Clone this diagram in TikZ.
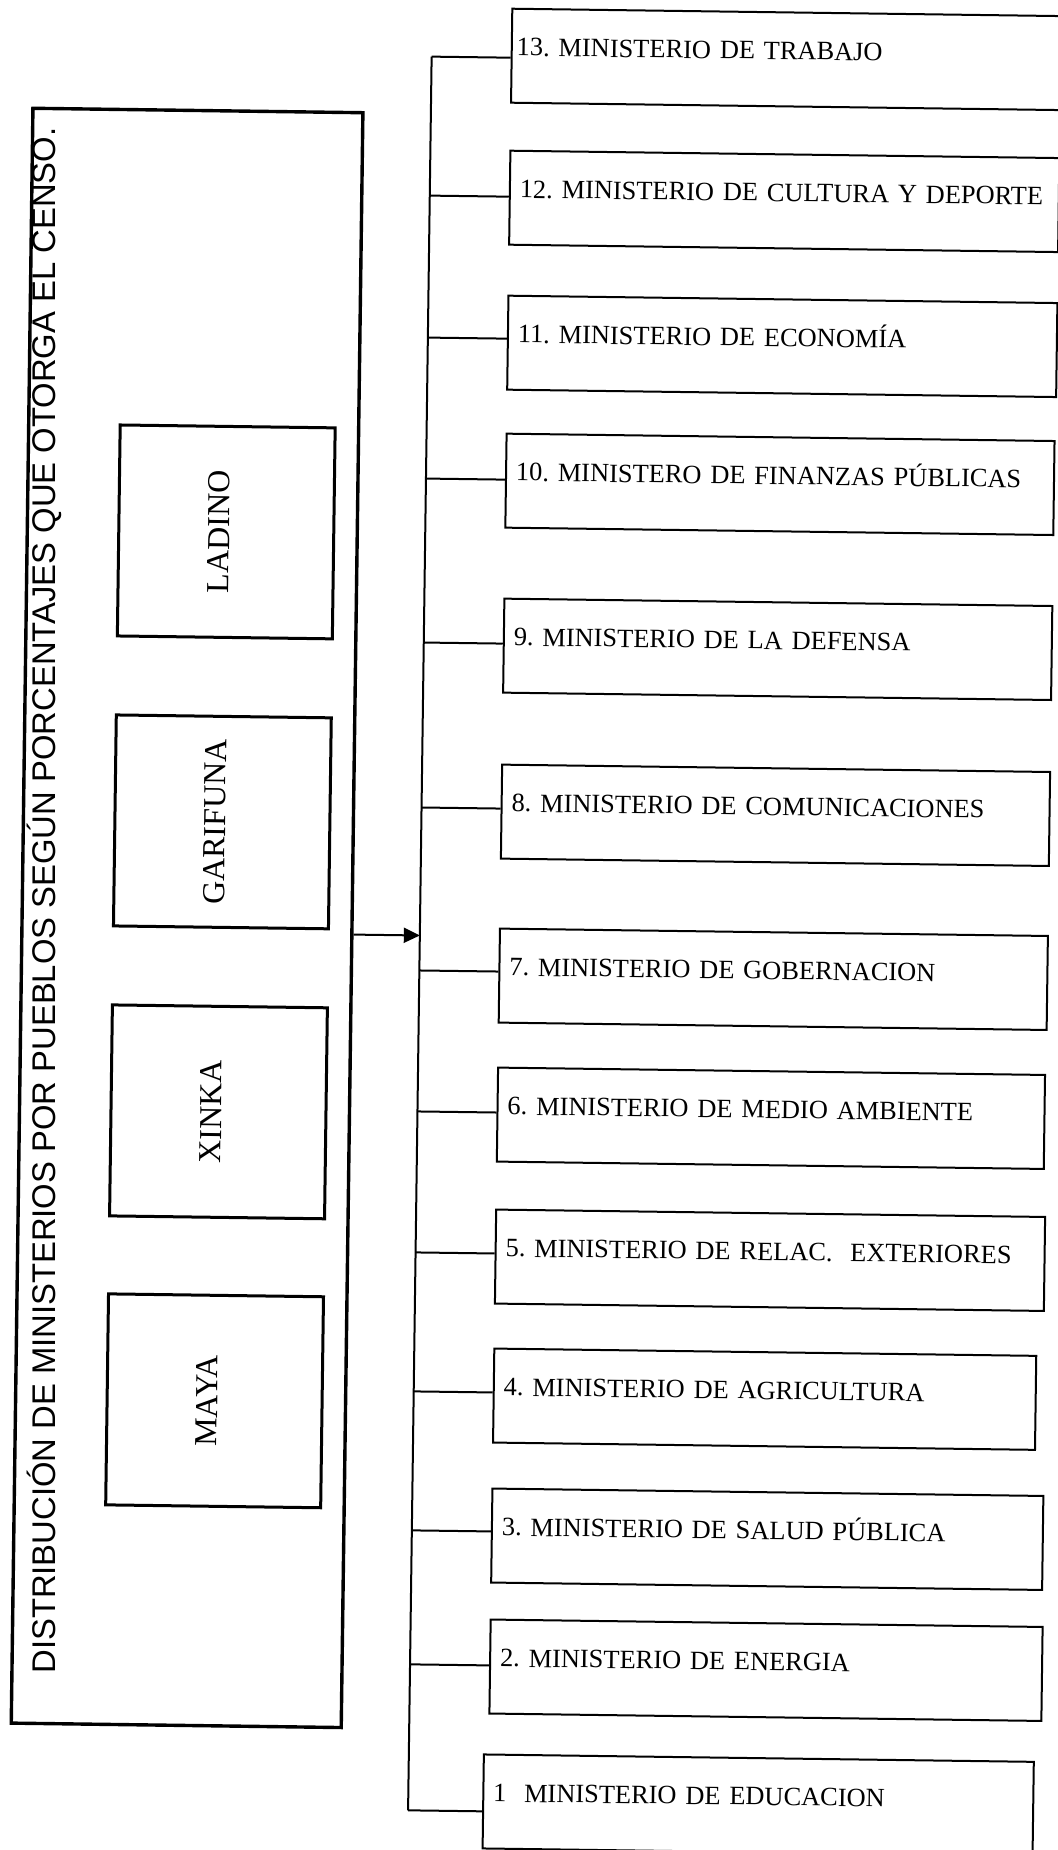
\documentclass[tikz,border=0pt]{standalone}
\usepackage{fontspec}
\setmainfont{Liberation Serif}
\newfontfamily\headfont{Liberation Sans}
\usetikzlibrary{arrows.meta}
\begin{document}
\frenchspacing
\begin{tikzpicture}[x=0.5pt,y=-0.5pt,
  frame/.style={draw, line width=1.7pt, minimum width=165pt, minimum height=807.5pt, inner sep=0pt},
  pueblo/.style={draw, line width=1.5pt, minimum width=107.5pt, minimum height=105.5pt, inner sep=0pt},
  pueblo text/.style={anchor=base, rotate=90, inner sep=0pt, font=\fontsize{16pt}{19pt}\selectfont},
  title text/.style={anchor=base, rotate=90.77, inner sep=0pt, font=\headfont\fontsize{16.4pt}{20pt}\selectfont},
  ministerio/.style={draw, line width=1pt, anchor=north west, minimum height=47pt,
    inner xsep=5pt, inner ysep=0pt, text height=9pt, text depth=9pt, align=left,
    text width=#1, font=\fontsize{13.2pt}{15pt}\selectfont},
  link/.style={line width=1pt},
  feed/.style={line width=1pt, -{Triangle[length=8pt,width=7.5pt]}}
]
\useasboundingbox[fill=white] (0,0) rectangle (1058,1850);
\begin{scope}[rotate around={-0.77:(529,925)}, transform shape]
  % left frame with the vertical title and the four peoples
  \node[frame] (marco) at (187,922.5) {};
  \node[title text] (titulo) at (55.6,907)
    {DISTRIBUCIÓN DE MINISTERIOS POR PUEBLOS SEGÚN PORCENTAJES QUE OTORGA EL CENSO.};
  \node[pueblo] (ladino) at (221,536) {};
  \node[pueblo text] (ladino-t) at (224,536) {LADINO};
  \node[pueblo] (garifuna) at (221,826) {};
  \node[pueblo text] (garifuna-t) at (224,826) {GARIFUNA};
  \node[pueblo] (xinka) at (221,1116) {};
  \node[pueblo text] (xinka-t) at (224,1116) {XINKA};
  \node[pueblo] (maya) at (221,1405) {};
  \node[pueblo text] (maya-t) at (224,1405) {MAYA};

  % ministries
  \node[ministerio=269.5pt, inner xsep=2.5pt] (m13) at (499,8) {13. MINISTERIO DE TRABAJO};
  \node[ministerio=264.5pt] (m12) at (499,150) {12. MINISTERIO DE CULTURA Y DEPORTE};
  \node[ministerio=264.5pt] (m11) at (499,295) {11. MINISTERIO DE ECONOMÍA};
  \node[ministerio=264pt] (m10) at (499,433) {10. MINISTERO DE FINANZAS PÚBLICAS};
  \node[ministerio=264pt] (m9) at (499,598) {9. MINISTERIO DE LA DEFENSA};
  \node[ministerio=264pt] (m8) at (499,764) {8. MINISTERIO DE COMUNICACIONES};
  \node[ministerio=264pt] (m7) at (499,928) {7. MINISTERIO DE GOBERNACION};
  \node[ministerio=263.5pt] (m6) at (499,1067) {6. MINISTERIO DE MEDIO AMBIENTE};
  \node[ministerio=264.5pt] (m5) at (499,1209) {5. MINISTERIO DE RELAC.\ \ EXTERIORES};
  \node[ministerio=261pt] (m4) at (499,1348) {4. MINISTERIO DE AGRICULTURA};
  \node[ministerio=265.5pt] (m3) at (499,1488) {3. MINISTERIO DE SALUD PÚBLICA};
  \node[ministerio=266pt] (m2) at (499,1619) {2. MINISTERIO DE ENERGIA};
  \node[ministerio=265pt] (m1) at (494,1754) {1\ \ MINISTERIO DE EDUCACION};

  % junctions on the vertical bus
  \coordinate (j13) at (420,58);
  \coordinate (j12) at (420,197);
  \coordinate (j11) at (420,339);
  \coordinate (j10) at (420,480);
  \coordinate (j9) at (420,644);
  \coordinate (j8) at (420,809);
  \coordinate (j7) at (420,972);
  \coordinate (j6) at (420,1113);
  \coordinate (j5) at (420,1254);
  \coordinate (j4) at (420,1393);
  \coordinate (j3) at (420,1532);
  \coordinate (j2) at (420,1666);
  \coordinate (j1) at (420,1812);
  \coordinate (entrada) at (420,937);

  \draw[link] (j13) -- (j1);
  \foreach \k in {1,...,13}
    \draw[link] (j\k) -- (j\k -| m\k.west);

  \draw[feed] (entrada -| marco.east) -- (entrada);
\end{scope}
\end{tikzpicture}
\end{document}
